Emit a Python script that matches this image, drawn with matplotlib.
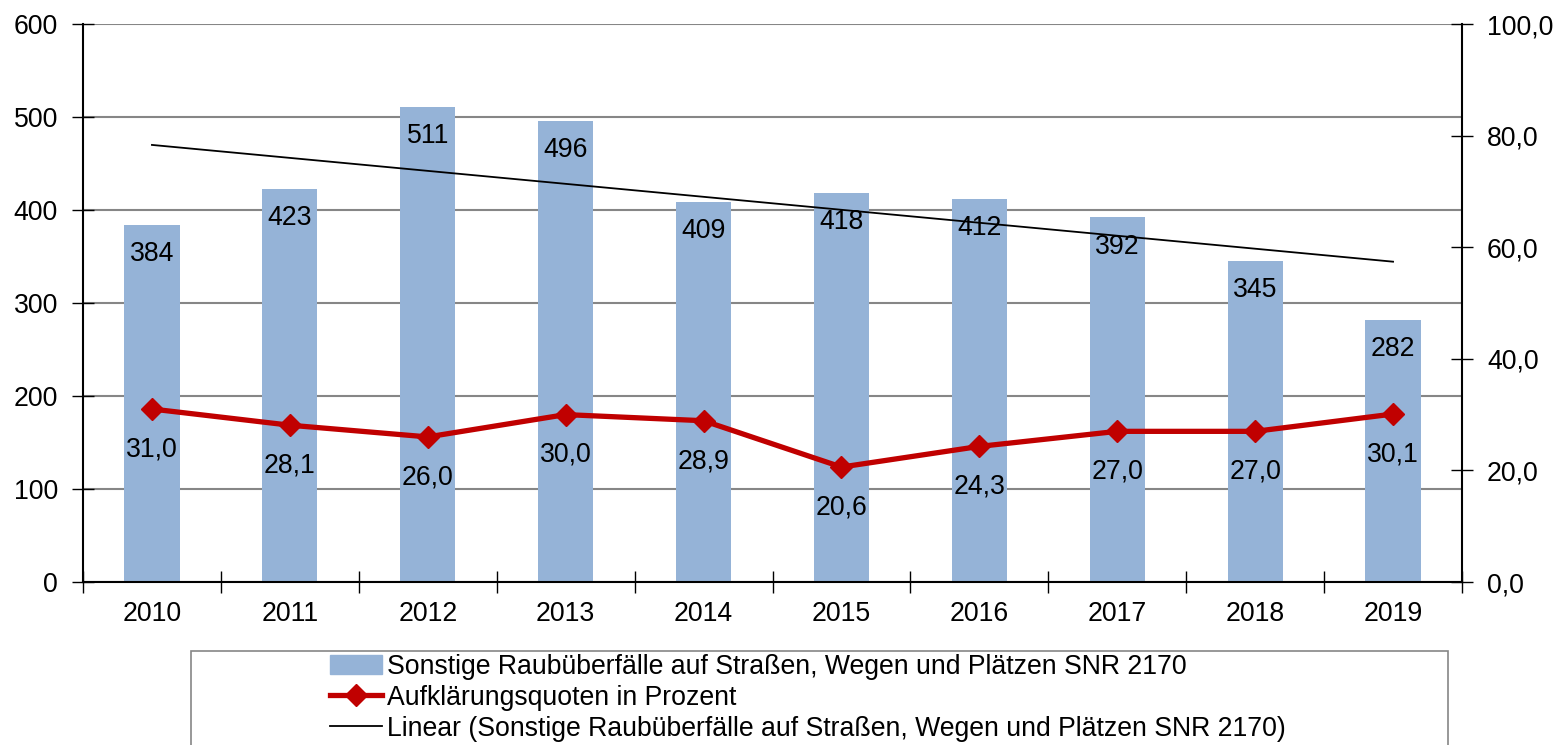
import numpy as np
import matplotlib.pyplot as plt
from matplotlib.patches import Rectangle
from matplotlib.lines import Line2D

plt.rcParams['font.family'] = ['Liberation Sans', 'DejaVu Sans']

years = ["2010", "2011", "2012", "2013", "2014", "2015", "2016", "2017", "2018", "2019"]
faelle = [384, 423, 511, 496, 409, 418, 412, 392, 345, 282]
quote = [31.0, 28.1, 26.0, 30.0, 28.9, 20.6, 24.3, 27.0, 27.0, 30.1]

lbl_bar = "Sonstige Raubüberfälle auf Straßen, Wegen und Plätzen SNR 2170"
lbl_line = "Aufklärungsquoten in Prozent"
lbl_trend = "Linear (Sonstige Raubüberfälle auf Straßen, Wegen und Plätzen SNR 2170)"

bar_col = "#95B3D7"
red = "#C00000"
fs = 19.2

def de(v):
    return f"{v:.1f}".replace(".", ",")

fig = plt.figure(figsize=(15.6, 7.45), dpi=100)
ax = fig.add_axes([83 / 1560, 1 - 582 / 745, (1462 - 83) / 1560, (582 - 24) / 745])
x = np.arange(len(years))

ax.set_axisbelow(True)
ax.yaxis.grid(True, color="#868686", lw=1.5)
bars = ax.bar(x, faelle, width=0.4, color=bar_col, zorder=2)
for xi, v in zip(x, faelle):
    ax.annotate(str(v), (xi, v), xytext=(0, -21), textcoords="offset points",
                ha="center", va="center", fontsize=fs, zorder=5)

# linearer Trend wie in Excel
k, d = np.polyfit(x, faelle, 1)
ax.plot(x, k * x + d, color="black", lw=1.3, zorder=3)

ax.set_xlim(-0.5, len(years) - 0.5)
ax.set_ylim(0, 600)
ax.set_yticks(range(0, 601, 100))
ax.set_xticks(x)
ax.set_xticklabels(years)
ax.set_xticks(np.arange(-0.5, len(years)), minor=True)
ax.tick_params(axis="x", which="major", length=0, pad=14, labelsize=fs)
ax.tick_params(axis="x", which="minor", length=16, direction="inout", width=1)
ax.tick_params(axis="y", length=16, direction="inout", width=1, labelsize=fs, pad=10)
for s in ["left", "bottom"]:
    ax.spines[s].set_linewidth(1.5)
ax.spines["top"].set_visible(False)
ax.spines["right"].set_visible(False)

ax2 = ax.twinx()
ax2.plot(x, quote, color=red, lw=3.8, marker="D", markersize=11, zorder=4)
for xi, v in zip(x, quote):
    ax2.annotate(de(v), (xi, v), xytext=(0, -29), textcoords="offset points",
                 ha="center", va="center", fontsize=fs)
ax2.set_ylim(0, 100)
ax2.set_yticks(range(0, 101, 20))
ax2.set_yticklabels([de(t) for t in range(0, 101, 20)])
ax2.tick_params(axis="y", length=16, direction="inout", width=1, labelsize=fs, pad=10)
for s in ["left", "bottom", "top"]:
    ax2.spines[s].set_visible(False)
ax2.spines["right"].set_linewidth(1.5)

# Legendenrahmen (unten abgeschnitten)
fig.patches.append(Rectangle((191 / 1560, -0.05), (1448 - 191) / 1560, 1 - 651 / 745 + 0.05,
                             transform=fig.transFigure, fill=False, edgecolor="#868686", lw=1.2))
handles = [
    Rectangle((0, 0), 1, 1, color=bar_col),
    Line2D([], [], color=red, lw=3.8, marker="D", markersize=11),
    Line2D([], [], color="black", lw=1.3),
]
fig.legend(handles, [lbl_bar, lbl_line, lbl_trend], loc="upper left",
           bbox_to_anchor=(330 / 1560, 1 - 654 / 745), frameon=False, fontsize=fs,
           handlelength=1.95, handletextpad=0.2, labelspacing=0.18, borderpad=0,
           borderaxespad=0)

fig.savefig("out.png", dpi=100)
